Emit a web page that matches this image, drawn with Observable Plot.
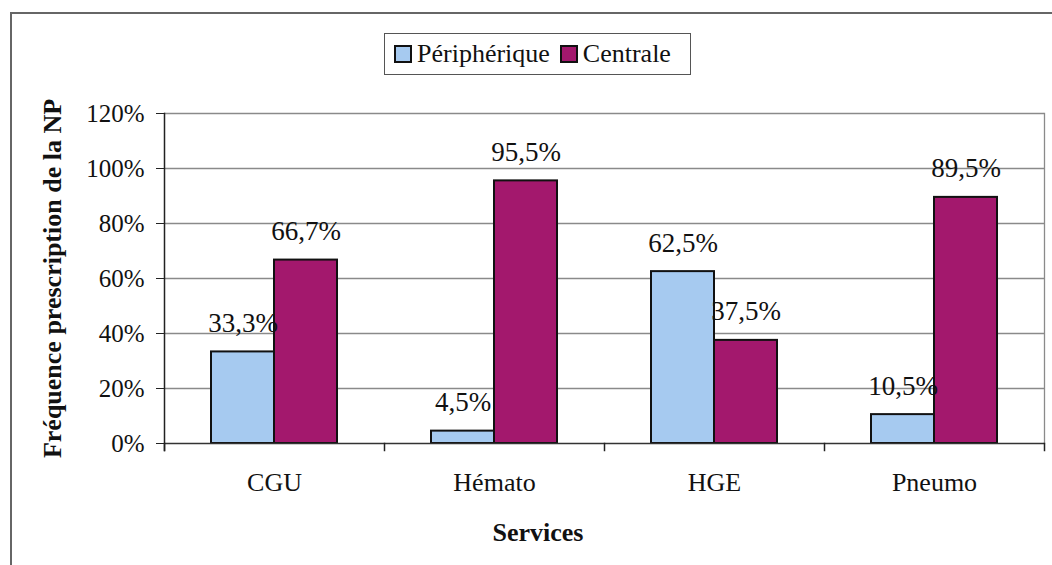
<!DOCTYPE html>
<html>
<head>
<meta charset="utf-8">
<script src="https://cdn.jsdelivr.net/npm/d3@7"></script>
<script src="https://cdn.jsdelivr.net/npm/@observablehq/plot@0.6"></script>
<style>
  body { margin: 0; background: #fff; font-family: "Liberation Serif", "Times New Roman", serif; color: #111; }
  #wrap { position: relative; width: 1052px; height: 565px; overflow: hidden; background: #fff; }
  #border { position: absolute; left: 10px; top: 12px; width: 1060px; height: 620px; border: 2px solid #666; box-sizing: border-box; }
  #legend { position: absolute; left: 384px; top: 33px; width: 307px; height: 42px; border: 1.5px solid #555; box-sizing: border-box;
            display: flex; align-items: center; padding-left: 9px; font-size: 26px; gap: 10px; font-family: "Liberation Serif", serif; }
  .item { display: flex; align-items: center; }
  .sw { width: 14px; height: 14px; border: 2px solid #111; margin-right: 5px; }
  #chart { position: absolute; left: 0; top: 80px; }
  #xtitle { position: absolute; left: 0; width: 1076px; top: 518px; text-align: center; font-weight: bold; font-size: 26px; font-family: "Liberation Serif", serif; }
</style>
</head>
<body>
<div id="wrap">
  <div id="border"></div>
  <div id="legend"></div>
  <div id="chart"></div>
  <div id="xtitle"></div>
</div>
<script>
// ---- data ----
const services = ["CGU", "Hémato", "HGE", "Pneumo"];
const series = ["Périphérique", "Centrale"];
const peripherique = [0.333, 0.045, 0.625, 0.105];
const centrale = [0.667, 0.955, 0.375, 0.895];
const seriesColors = ["#a6caf0", "#a3186d"];
const yTicks = [0, 0.2, 0.4, 0.6, 0.8, 1.0, 1.2];
const yTitle = "Fréquence prescription de la NP";
const xTitle = "Services";

// ---- table ----
const values = [peripherique, centrale];
const rows = [];
services.forEach((s, i) => series.forEach((k, j) => rows.push({service: s, serie: k, value: values[j][i]})));

const fr = d3.formatLocale({decimal: ",", thousands: " ", grouping: [3], currency: ["", " €"]});
const valFmt = fr.format(".1%");
const tickFmt = fr.format(".0%");

// ---- legend ----
const legend = document.getElementById("legend");
series.forEach((k, j) => {
  const it = document.createElement("div");
  it.className = "item";
  const sw = document.createElement("div");
  sw.className = "sw";
  sw.style.background = seriesColors[j];
  const t = document.createElement("span");
  t.textContent = k;
  it.append(sw, t);
  legend.append(it);
});
document.getElementById("xtitle").textContent = xTitle;

// ---- chart ----
const serif = "Liberation Serif, Times New Roman, serif";
const chart = Plot.plot({
  width: 1052,
  height: 428,
  marginTop: 33,
  marginBottom: 65,
  marginLeft: 163,
  marginRight: 8,
  style: {fontFamily: serif, fontSize: "25px", color: "#111", background: "transparent"},
  fx: {domain: services, padding: 0, label: null, axis: null},
  x: {domain: series, paddingInner: 0, paddingOuter: 0.72, axis: null},
  y: {domain: [0, 1.2], label: null, axis: null},
  color: {domain: series, range: seriesColors},
  marks: [
    Plot.ruleY(yTicks.slice(1), {stroke: "#8a8a8a", strokeWidth: 1.3}),
    Plot.frame({anchor: "right", fx: "Pneumo", stroke: "#8a8a8a", strokeWidth: 1.3}),
    Plot.barY(rows, {fx: "service", x: "serie", y: "value", fill: "serie", stroke: "#111", strokeWidth: 2, inset: 0}),
    Plot.ruleY([0], {stroke: "#333", strokeWidth: 1.5}),
    Plot.frame({anchor: "left", fx: "CGU", insetBottom: -7, stroke: "#222", strokeWidth: 1.5}),
    Plot.frame({anchor: "left", insetTop: 330, insetBottom: -7, stroke: "#222", strokeWidth: 1.5}),
    Plot.frame({anchor: "right", fx: "Pneumo", insetTop: 330, insetBottom: -7, stroke: "#222", strokeWidth: 1.5}),
    Plot.text(rows, {fx: "service", x: "serie", y: "value", text: d => valFmt(d.value), dy: -20, lineAnchor: "bottom", fontSize: 27, fontFamily: serif, fill: "#111"}),
    Plot.axisY({ticks: yTicks, tickFormat: tickFmt, tickSize: 8, tickPadding: 12, fontSize: 25, fontFamily: serif, label: null, stroke: "#222"}),
    Plot.axisY({ticks: [], label: yTitle, labelAnchor: "center", labelArrow: "none", labelOffset: 122, fontWeight: "bold", fontSize: 26, fontFamily: serif}),
    Plot.axisFx({anchor: "bottom", tickSize: 0, tickPadding: 29, fontSize: 26, fontFamily: serif, label: null})
  ]
});
document.getElementById("chart").append(chart);
</script>
</body>
</html>
